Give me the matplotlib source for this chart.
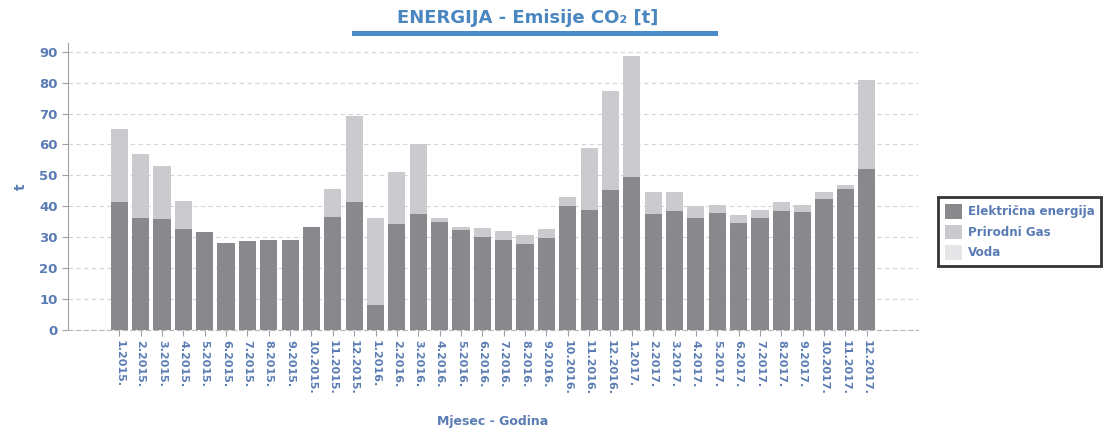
import matplotlib.pyplot as plt
from matplotlib.patches import Patch, Rectangle
import numpy as np

plt.rcParams.update({"font.family": "DejaVu Sans", "font.weight": "bold"})

# mjeseci 1.2015. - 12.2017.
months = [f"{m}.{y}." for y in (2015, 2016, 2017) for m in range(1, 13)]

elektricna = [41.3, 36.2, 35.9, 32.8, 31.8, 28.2, 28.8, 29.1, 29.1, 33.3, 36.5, 41.3,
              8.0, 34.2, 37.4, 34.8, 32.4, 30.1, 29.2, 27.7, 29.8, 40.1, 38.9, 45.4,
              49.5, 37.4, 38.6, 36.2, 37.7, 34.7, 36.2, 38.6, 38.0, 42.5, 45.7, 52.0]
gas = [23.8, 20.6, 17.1, 9.0, 0, 0, 0, 0, 0, 0, 9.1, 27.9,
       28.2, 17.0, 22.7, 1.3, 0.8, 2.8, 2.9, 2.9, 2.9, 2.9, 20.0, 31.8,
       39.2, 7.3, 5.9, 3.8, 2.6, 2.4, 2.6, 2.7, 2.3, 2.1, 1.2, 28.7]
voda = [0.0] * 36

colors = {
    'Električna energija': '#88888d',
    'Prirodni Gas': '#cbcbcf',
    'Voda': '#e6e6e8',
}
text_blue = '#5a7cb4'

fig = plt.figure(figsize=(11.03, 4.29), dpi=100)
ax = fig.add_axes([68 / 1103, 99 / 429, 850 / 1103, 287 / 429])

x = np.arange(len(months))
w = 0.8
ax.bar(x, elektricna, w, color=colors['Električna energija'], zorder=3)
ax.bar(x, gas, w, bottom=elektricna, color=colors['Prirodni Gas'], zorder=3)
ax.bar(x, voda, w, bottom=np.add(elektricna, gas), color=colors['Voda'], zorder=3)

ax.set_xlim(-2.4, 37.4)
ax.set_ylim(0, 92.8)
ax.set_yticks(range(0, 91, 10))
ax.set_xticks(x)
ax.set_xticklabels(months, rotation=270, fontsize=8, color=text_blue)
ax.tick_params(axis='y', labelsize=9.5, labelcolor=text_blue, color='#a0a0a8', length=4)
ax.tick_params(axis='x', color='#a0a0a8', length=4, pad=3)

ax.yaxis.grid(True, linestyle=(0, (4, 3)), color='#d4d4d8', linewidth=0.8, zorder=0)
for s in ['top', 'right']:
    ax.spines[s].set_visible(False)
ax.spines['left'].set_color('#a0a0a8')
ax.spines['bottom'].set_color('#b8b8bc')
ax.spines['bottom'].set_linestyle((0, (4, 3)))

fig.text(21 / 1103, 1 - 187 / 429, 't', rotation=90, ha='center', va='center',
         color=text_blue, fontsize=10, fontweight='bold')
fig.text(493 / 1103, 1 - 421 / 429, 'Mjesec - Godina', ha='center', va='center',
         color=text_blue, fontsize=9, fontweight='bold')

fig.text(528 / 1103, 1 - 18 / 429, 'ENERGIJA - Emisije CO₂ [t]', ha='center', va='center',
         fontsize=13, color='#4a86c0', fontweight='bold')
fig.add_artist(Rectangle((352 / 1103, 1 - 36 / 429), 366 / 1103, 5 / 429,
                         transform=fig.transFigure, color='#4a8cc8', linewidth=0))

handles = [Patch(facecolor=c, edgecolor='none') for c in colors.values()]
leg = fig.legend(handles, list(colors.keys()), loc='upper left',
                 bbox_to_anchor=(936 / 1103, 1 - 195 / 429), fontsize=8.6,
                 frameon=True, fancybox=False, handlelength=1.4, handleheight=1.5,
                 borderpad=0.55, labelspacing=0.5, handletextpad=0.5,
                 borderaxespad=0.2)
leg.get_frame().set_edgecolor('black')
leg.get_frame().set_linewidth(2)
for t in leg.get_texts():
    t.set_color(text_blue)

fig.savefig('out.png', dpi=100)
